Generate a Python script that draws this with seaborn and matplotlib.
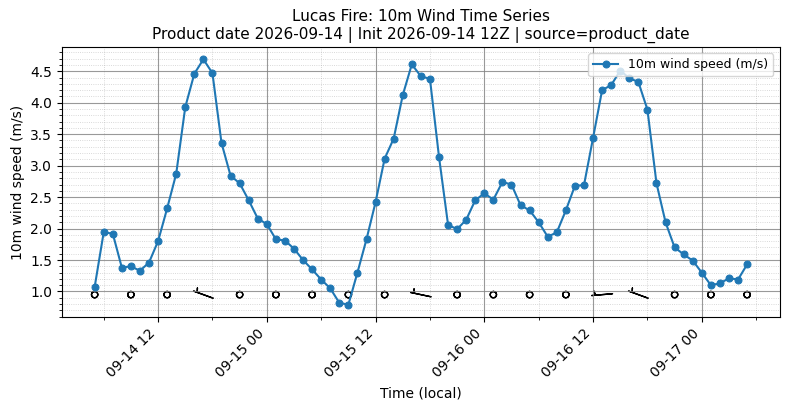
import numpy as np
import pandas as pd
import matplotlib
matplotlib.use('Agg')
import matplotlib.pyplot as plt
import matplotlib.dates as mdates
from matplotlib.ticker import MultipleLocator
import seaborn as sns

# hourly 10m wind speed (m/s), 2026-09-14 05:00 -> 2026-09-17 05:00 local
start_time = '2026-09-14 05:00'
wind_speed = [
    1.07, 1.94, 1.92, 1.38, 1.40, 1.33, 1.46, 1.80, 2.32, 2.87, 3.93, 4.46,
    4.69, 4.47, 3.36, 2.84, 2.72, 2.45, 2.16,
    2.07, 1.83, 1.81, 1.68, 1.50, 1.35, 1.19, 1.05, 0.82, 0.79, 1.30, 1.83,
    2.42, 3.11, 3.43, 4.12, 4.61, 4.42, 4.38, 3.14, 2.06, 1.99, 2.14, 2.45,
    2.56, 2.46, 2.74, 2.70, 2.37, 2.29, 2.10, 1.87, 1.94, 2.29, 2.68, 2.69,
    3.44, 4.20, 4.28, 4.51, 4.39, 4.33, 3.89, 2.72, 2.10, 1.70, 1.59, 1.49,
    1.30, 1.10, 1.13, 1.21, 1.19, 1.43,
]

# wind direction (deg, from) at the barb times, every 4 hours
barb_step = 4
barb_dir = [270, 270, 270, 290, 270, 270, 270, 270, 270, 282,
            270, 270, 270, 270, 265, 290, 270, 270, 270]
barb_y = 0.95

times = pd.date_range(start_time, periods=len(wind_speed), freq='h')
df = pd.DataFrame({'time': times, 'speed': wind_speed})

fig, ax = plt.subplots(figsize=(7.9, 4.09), dpi=100)

sns.lineplot(data=df, x='time', y='speed', marker='o', markersize=5,
             color='#1f77b4', markeredgecolor='#1f77b4', linewidth=1.5,
             label='10m wind speed (m/s)', ax=ax)

# wind barbs along the bottom
bt = mdates.date2num(times[::barb_step])
bs = np.array(wind_speed[::barb_step])
rad = np.deg2rad(barb_dir)
u = -bs * np.sin(rad)
v = -bs * np.cos(rad)
ax.barbs(bt, np.full(len(bt), barb_y), u, v, length=5.5, pivot='middle',
         rounding=False, barb_increments=dict(half=4, full=8, flag=40),
         linewidth=1.0, color='black')

ax.xaxis.set_major_locator(mdates.HourLocator(byhour=[0, 12]))
ax.xaxis.set_minor_locator(mdates.HourLocator(byhour=[6, 18]))
ax.xaxis.set_major_formatter(mdates.DateFormatter('%m-%d %H'))
ax.yaxis.set_major_locator(MultipleLocator(0.5))
ax.yaxis.set_minor_locator(MultipleLocator(0.1))

ax.grid(which='major', color='gray', linewidth=0.8, alpha=0.8)
ax.grid(which='minor', color='gray', linestyle=':', linewidth=0.6, alpha=0.4)

plt.setp(ax.get_xticklabels(), rotation=45, ha='right')
ax.set_xlabel('Time (local)')
ax.set_ylabel('10m wind speed (m/s)')
ax.set_title('Lucas Fire: 10m Wind Time Series\n'
             'Product date 2026-09-14 | Init 2026-09-14 12Z | source=product_date',
             fontsize=11)
ax.legend(loc='upper right', fontsize=9)

fig.subplots_adjust(left=0.0785, right=0.987, top=0.885, bottom=0.225)
plt.savefig('out.png', dpi=100)
